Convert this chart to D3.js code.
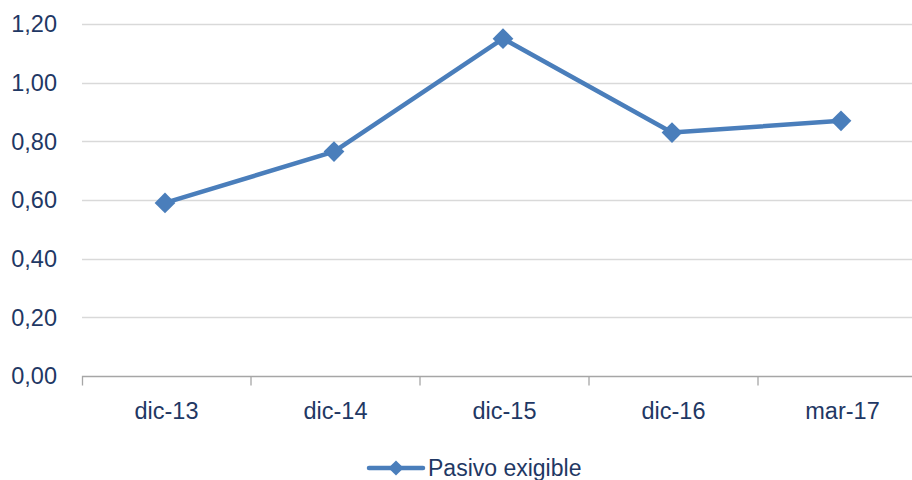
<!DOCTYPE html>
<html><head><meta charset="utf-8">
<script src="https://cdn.jsdelivr.net/npm/d3@7"></script>
<style>body{margin:0;background:#fff}svg{display:block}</style>
</head><body>
<svg id="c" width="912" height="480"></svg>
<script>
const categories = ["dic-13","dic-14","dic-15","dic-16","mar-17"];
const pasivoExigible = [0.59, 0.765, 1.15, 0.83, 0.87];
const yTicks = [0, 0.2, 0.4, 0.6, 0.8, 1.0, 1.2];
const seriesName = "Pasivo exigible";

const svg = d3.select("#c");
const font = "'Liberation Sans', Arial, sans-serif";
const textColor = "#1F3864";
const lineColor = "#4A7EBB";

const x = d3.scaleBand().domain(categories).range([82, 927]);
const y = d3.scaleLinear().domain([0, 1.2]).range([376, 24]);
const fmt = v => d3.format(".2f")(v).replace(".", ",");

// gridlines
svg.append("g").selectAll("line").data(yTicks.filter(d => d > 0)).join("line")
  .attr("x1", 82).attr("x2", 912)
  .attr("y1", d => Math.round(y(d)) + 0.5).attr("y2", d => Math.round(y(d)) + 0.5)
  .attr("stroke", "#D9D9D9").attr("stroke-width", 1.3);

// y labels
svg.append("g").selectAll("text").data(yTicks).join("text")
  .attr("x", 57).attr("y", d => y(d)).attr("dy", "0.36em")
  .attr("text-anchor", "end").attr("font-family", font).attr("font-size", 23.5)
  .attr("fill", textColor).text(fmt);

// x axis
const xAxis = d3.axisBottom(x).tickSize(9).tickSizeOuter(9).tickFormat("");
const gx = svg.append("g").attr("transform", "translate(0,376.5)").call(xAxis);
gx.select(".domain").attr("stroke", "#A6A6A6").attr("stroke-width", 1.3).attr("d", "M82.5,9V0H927");
gx.selectAll(".tick line").attr("stroke", "#A6A6A6").attr("stroke-width", 1.3)
  .attr("transform", `translate(${-x.bandwidth()/2},0)`);
gx.selectAll(".tick").filter((d,i) => i === 0).select("line").remove();

svg.append("g").selectAll("text").data(categories).join("text")
  .attr("x", d => x(d) + x.bandwidth()/2).attr("y", 419)
  .attr("text-anchor", "middle").attr("font-family", font).attr("font-size", 23.5)
  .attr("fill", textColor).text(d => d);

// line
const pts = categories.map((c, i) => [x(c) + x.bandwidth()/2 - 1.5, y(pasivoExigible[i])]);
svg.append("path").attr("d", d3.line()(pts)).attr("fill", "none")
  .attr("stroke", lineColor).attr("stroke-width", 4.5).attr("stroke-linejoin", "round");

svg.append("g").selectAll("path").data(pts).join("path")
  .attr("transform", d => `translate(${d[0]},${d[1]}) rotate(45)`)
  .attr("d", d3.symbol().type(d3.symbolSquare).size(215)())
  .attr("fill", lineColor);

// legend
const lg = svg.append("g");
lg.append("line").attr("x1", 369).attr("x2", 423).attr("y1", 468).attr("y2", 468)
  .attr("stroke", lineColor).attr("stroke-width", 4.5).attr("stroke-linecap", "round");
lg.append("path").attr("transform", "translate(396,468) rotate(45)")
  .attr("d", d3.symbol().type(d3.symbolSquare).size(115)()).attr("fill", lineColor);
lg.append("text").attr("x", 428).attr("y", 476).attr("font-family", font).attr("font-size", 23)
  .attr("fill", textColor).text(seriesName);
</script>
</body></html>
